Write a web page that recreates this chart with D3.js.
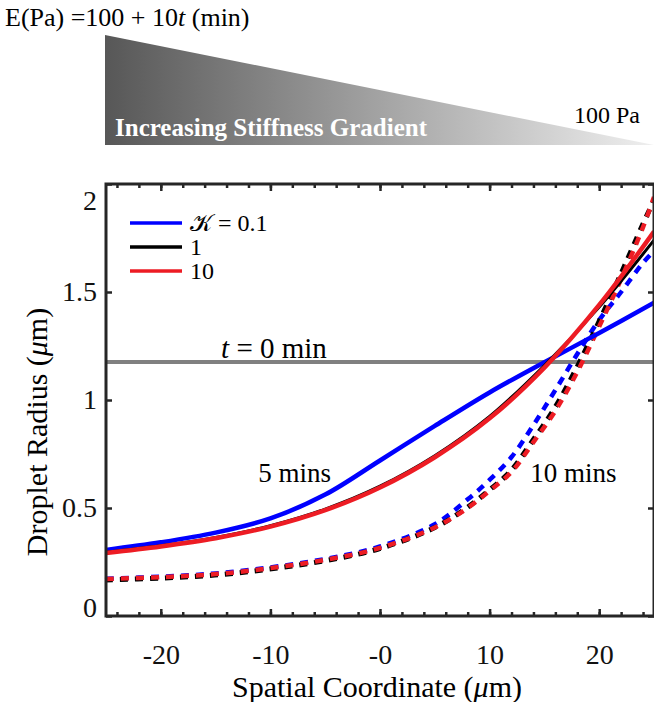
<!DOCTYPE html>
<html>
<head>
<meta charset="utf-8">
<script src="https://cdn.jsdelivr.net/npm/d3@7"></script>
<style>
  body { margin: 0; background: #fff; }
</style>
</head>
<body>
<svg id="chart" width="654" height="702"></svg>
<script>

// x positions of the sampled curves (um)
var xSolid = [-25, -20, -15, -10, -5, 0, 5, 10, 15, 20, 25];
var xDotted = [-25, -20, -15, -10, -5, 0, 5, 8, 10, 12, 14, 16, 18, 20, 22, 24, 25];

// 5 mins (solid)
var blue5  = [0.306, 0.341, 0.386, 0.452, 0.562, 0.72, 0.88, 1.035, 1.175, 1.31, 1.45];
var black5 = [0.295, 0.325, 0.364, 0.418, 0.495, 0.601, 0.742, 0.924, 1.16, 1.43, 1.74];
var red5   = [0.292, 0.322, 0.36, 0.414, 0.49, 0.595, 0.735, 0.915, 1.15, 1.44, 1.78];

// 10 mins (dotted)
var blue10  = [0.173, 0.182, 0.197, 0.225, 0.264, 0.322, 0.425, 0.54, 0.63, 0.736, 0.884, 1.046, 1.213, 1.37, 1.50, 1.635, 1.69];
var black10 = [0.171, 0.18, 0.194, 0.222, 0.26, 0.316, 0.412, 0.505, 0.585, 0.675, 0.815, 0.965, 1.15, 1.36, 1.58, 1.81, 1.92];
var red10   = [0.171, 0.18, 0.194, 0.222, 0.26, 0.315, 0.41, 0.50, 0.58, 0.667, 0.805, 0.95, 1.13, 1.34, 1.56, 1.80, 1.94];

var initialRadius = 1.176;   // t = 0 min

var xMajor = [-20, -10, 0, 10, 20];
var xTickLabels = ["-20", "-10", "-0", "10", "20"];
var xMinor = d3.range(-24, 25, 2);
var yMajor = [0, 0.5, 1, 1.5, 2];
var yTickLabels = ["0", "0.5", "1", "1.5", "2"];

var legendLabels = ["\u{1D4A6} = 0.1", "1", "10"];
var colors = ["#0000ff", "#000000", "#ed1c24"];

var serif = "'Liberation Serif', 'Times New Roman', Times, serif";

var svg = d3.select("#chart"),
    margin = {top: 184, right: 0, bottom: 86, left: 106},
    width = +svg.attr("width") - margin.left - margin.right,
    height = +svg.attr("height") - margin.top - margin.bottom;

// stiffness gradient banner
var defs = svg.append("defs");
var grad = defs.append("linearGradient").attr("id", "stiff")
    .attr("x1", "0%").attr("x2", "100%").attr("y1", "0%").attr("y2", "0%");
grad.append("stop").attr("offset", "0%").attr("stop-color", "#575757");
grad.append("stop").attr("offset", "100%").attr("stop-color", "#efefef");

svg.append("path")
    .attr("d", "M105,35 L105,145 L654,145 Z")
    .attr("fill", "url(#stiff)");

svg.append("text")
    .attr("x", 5).attr("y", 26)
    .style("font-family", serif).attr("font-size", 26)
    .html("E(Pa) =100 + 10<tspan font-style='italic'>t</tspan> (min)");

svg.append("text")
    .attr("x", 115).attr("y", 136)
    .style("font-family", serif).attr("font-size", 25).attr("font-weight", "bold")
    .attr("fill", "#fff")
    .text("Increasing Stiffness Gradient");

svg.append("text")
    .attr("x", 574).attr("y", 123)
    .style("font-family", serif).attr("font-size", 24)
    .text("100 Pa");

var g = svg.append("g").attr("transform", "translate(" + margin.left + "," + margin.top + ")");

var x = d3.scaleLinear().domain([-25, 25]).range([0, width]);
var y = d3.scaleLinear().domain([0, 2]).range([height, 0]);

var line = d3.line()
    .x(function(d) { return x(d[0]); })
    .y(function(d) { return y(d[1]); })
    .curve(d3.curveCatmullRom.alpha(0.5));

// t = 0 line
g.append("line")
    .attr("x1", x(-25)).attr("x2", x(25))
    .attr("y1", y(initialRadius)).attr("y2", y(initialRadius))
    .attr("stroke", "#808080").attr("stroke-width", 4);

g.append("text")
    .attr("x", x(-14.5)).attr("y", y(initialRadius) - 4)
    .style("font-family", serif).attr("font-size", 29)
    .html("<tspan font-style='italic'>t</tspan> = 0 min");

var dotted = [blue10, black10, red10];
var solid = [blue5, black5, red5];

dotted.forEach(function(vals, i) {
  g.append("path")
      .datum(d3.zip(xDotted, vals))
      .attr("fill", "none")
      .attr("stroke", colors[i])
      .attr("stroke-width", i == 1 ? 5 : 4.5)
      .attr("stroke-dasharray", "8,7")
      .attr("transform", i == 1 ? "translate(-1,1)" : null)
      .attr("d", line);
});

solid.forEach(function(vals, i) {
  g.append("path")
      .datum(d3.zip(xSolid, vals))
      .attr("fill", "none")
      .attr("stroke", colors[i])
      .attr("stroke-width", i == 1 ? 3 : 4.5)
      .attr("stroke-linejoin", "round")
      .attr("d", line);
});

g.append("text").attr("x", x(-11.1)).attr("y", y(0.62))
    .style("font-family", serif).attr("font-size", 27).text("5 mins");
g.append("text").attr("x", x(13.7)).attr("y", y(0.62))
    .style("font-family", serif).attr("font-size", 27).text("10 mins");

// legend
var legend = g.append("g");
legendLabels.forEach(function(lab, i) {
  var ly = 39 + i * 24;
  legend.append("line")
      .attr("x1", 24).attr("x2", 76).attr("y1", ly).attr("y2", ly)
      .attr("stroke", colors[i]).attr("stroke-width", 3.5);
  legend.append("text")
      .attr("x", 84).attr("y", ly + 8)
      .style("font-family", serif).attr("font-size", 24)
      .text(lab);
});

// axes (ticks inward on all four sides)
var axisColor = "#262626";

function styleAxis(sel) {
  sel.select(".domain").remove();
  sel.selectAll("line").attr("stroke", axisColor).attr("stroke-width", 2.5);
  sel.selectAll("text").attr("fill", "#111")
      .style("font-family", serif).attr("font-size", 28);
}

g.append("g")
    .attr("transform", "translate(0," + height + ")")
    .call(d3.axisBottom(x).tickValues(xMinor).tickSize(-4).tickFormat(""))
    .call(styleAxis);
g.append("g")
    .attr("transform", "translate(0," + height + ")")
    .call(d3.axisBottom(x).tickValues(xMajor).tickSize(-7).tickPadding(28)
      .tickFormat(function(d, i) { return xTickLabels[i]; }))
    .call(styleAxis);

g.append("g")
    .call(d3.axisTop(x).tickValues(xMinor).tickSize(-4).tickFormat(""))
    .call(styleAxis);
g.append("g")
    .call(d3.axisTop(x).tickValues(xMajor).tickSize(-7).tickFormat(""))
    .call(styleAxis);

g.append("g")
    .call(d3.axisLeft(y).tickValues(yMajor).tickSize(-6).tickPadding(9)
      .tickFormat(function(d, i) { return yTickLabels[i]; }))
    .call(styleAxis)
    .selectAll("text")
      .attr("dy", function(d) { return d == 2 ? "0.92em" : d == 0 ? "0.02em" : "0.32em"; });

g.append("g")
    .attr("transform", "translate(" + width + ",0)")
    .call(d3.axisRight(y).tickValues(yMajor).tickSize(-6).tickFormat(""))
    .call(styleAxis);

g.append("rect")
    .attr("x", 0).attr("y", 0).attr("width", width).attr("height", height)
    .attr("fill", "none").attr("stroke", axisColor).attr("stroke-width", 3);

// axis titles
g.append("text")
    .attr("x", width / 2 - 3).attr("y", height + 81)
    .attr("text-anchor", "middle")
    .style("font-family", serif).attr("font-size", 30)
    .html("Spatial Coordinate (<tspan font-style='italic'>\u03bc</tspan>m)");

g.append("text")
    .attr("transform", "translate(-59," + (height / 2 + 32) + ") rotate(-90)")
    .attr("text-anchor", "middle")
    .style("font-family", serif).attr("font-size", 30)
    .html("Droplet Radius (<tspan font-style='italic'>\u03bc</tspan>m)");

</script>
</body>
</html>
